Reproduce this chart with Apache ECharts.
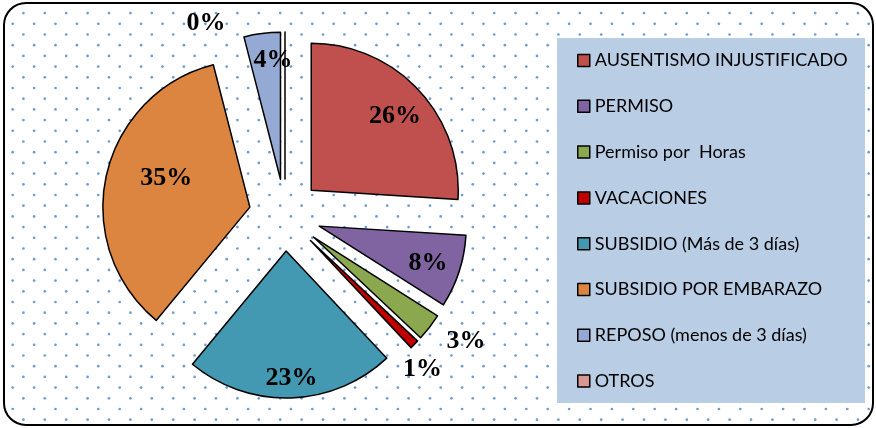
<!DOCTYPE html>
<html><head><meta charset="utf-8">
<script src="https://cdn.jsdelivr.net/npm/echarts@6/dist/echarts.min.js"></script>
<style>html,body{margin:0;padding:0;background:#fff}#c{width:876px;height:428px}</style>
</head><body><div id="c"></div>
<script>
// ---- data ----
const categories = ['AUSENTISMO INJUSTIFICADO', 'PERMISO', 'Permiso por  Horas', 'VACACIONES',
  'SUBSIDIO (Más de 3 días)', 'SUBSIDIO POR EMBARAZO', 'REPOSO (menos de 3 días)', 'OTROS'];
const values = [26, 8, 3, 1, 23, 35, 4, 0];

// ---- styles ----
const colors = ['#C0504D', '#8064A2', '#8CA84E', '#C00000', '#4299B1', '#DB8540', '#94AAD4', '#D99694'];
const labelNudge = [[28, -22], [36, 14], [92, 57], [58, 75], [3, 51], [-9, -12], [2, -43], [-79, -79]];

// dotted background pattern
function makePattern() {
  const P = 21.4, N = 5, S = Math.round(P * N);
  const cv = document.createElement('canvas');
  cv.width = S; cv.height = S;
  const ctx = cv.getContext('2d');
  ctx.fillStyle = '#fff'; ctx.fillRect(0, 0, S, S);
  ctx.fillStyle = 'rgba(79,129,200,0.8)';
  const offs = [[2, 13.1], [12.7, 2.4]];
  for (let i = -1; i <= N; i++) for (let j = -1; j <= N; j++) for (const o of offs) {
    ctx.beginPath();
    ctx.arc(o[0] + i * P, o[1] + j * P, 1.35, 0, Math.PI * 2);
    ctx.fill();
  }
  return cv;
}

const chart = echarts.init(document.getElementById('c'), null, { renderer: 'canvas' });
const option = {
  animation: false,
  color: colors,
  graphic: [
    { type: 'rect', z: -10, silent: true,
      shape: { x: 4, y: 3, width: 869, height: 422, r: 22 },
      style: { fill: { image: makePattern(), repeat: 'repeat' }, stroke: '#000', lineWidth: 2 } },
    { type: 'rect', z: -9, silent: true,
      shape: { x: 557, y: 38, width: 308, height: 365 },
      style: { fill: '#B9CDE5' } }
  ],
  legend: {
    orient: 'vertical', left: 577, top: 50.5, padding: 0,
    icon: 'rect', itemWidth: 12, itemHeight: 12, itemGap: 25.8,
    itemStyle: { borderColor: '#000', borderWidth: 1.5 },
    textStyle: { fontFamily: 'Lato', fontSize: 18, color: '#000', lineHeight: 20 },
    selectedMode: false,
    data: categories
  },
  series: [{
    type: 'pie',
    center: [285, 215], radius: 147,
    startAngle: 90, clockwise: true,
    selectedMode: 'multiple', selectedOffset: 36,
    avoidLabelOverlap: false,
    minAngle: 0,
    itemStyle: { borderColor: '#000', borderWidth: 1.5 },
    label: { show: true, position: 'inside', formatter: '{c}%', color: '#000',
      fontFamily: 'Liberation Serif', fontWeight: 'bold', fontSize: 26 },
    labelLine: { show: false },
    select: { itemStyle: { borderColor: '#000', borderWidth: 1.5 },
      label: { color: '#000', fontFamily: 'Liberation Serif', fontWeight: 'bold', fontSize: 26 } },
    emphasis: { disabled: true },
    labelLayout: function (p) { const n = labelNudge[p.dataIndex]; return { dx: n[0], dy: n[1] }; },
    data: categories.map((name, i) => ({ name: name, value: values[i], selected: true }))
  }]
};
chart.setOption(option);
</script></body></html>
